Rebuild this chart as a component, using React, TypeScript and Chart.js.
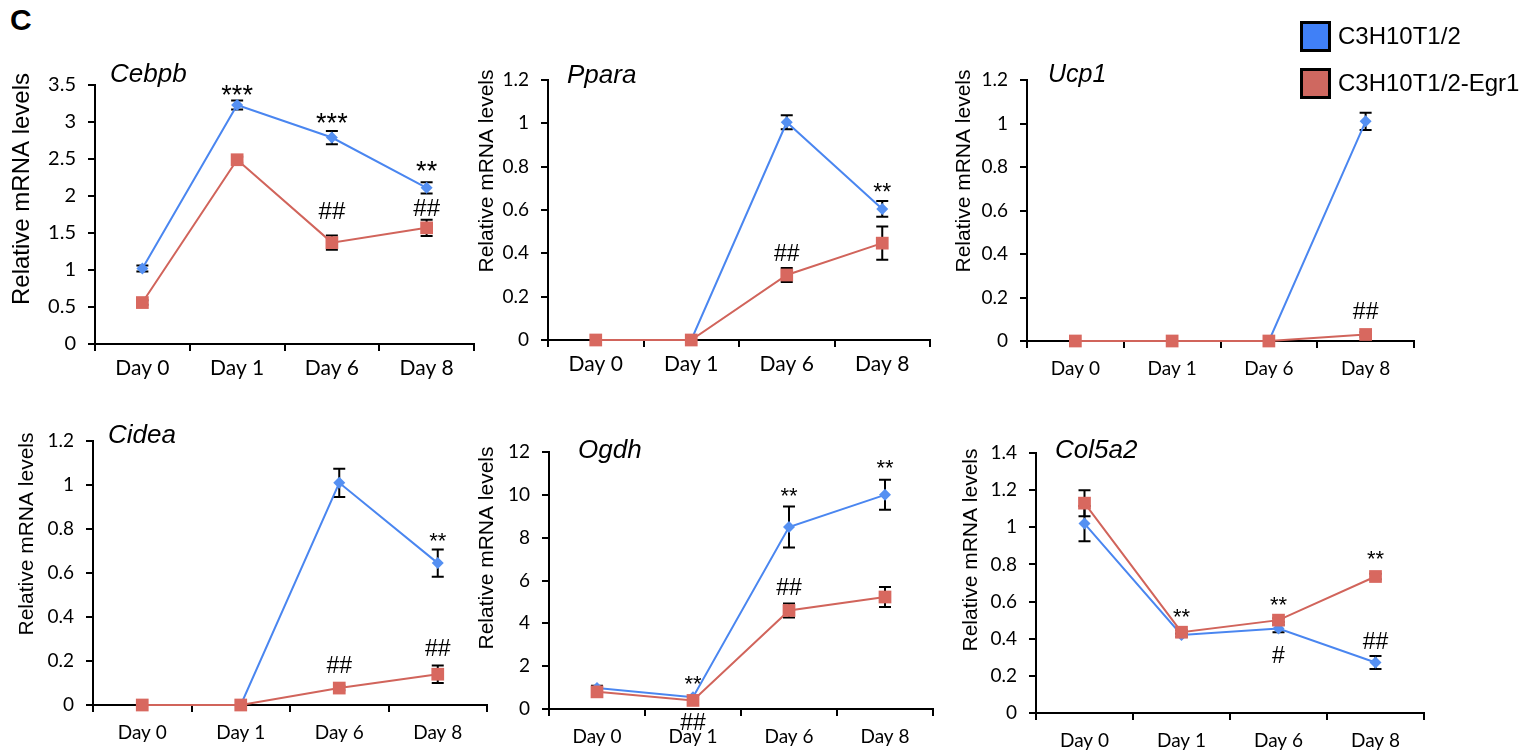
import React, { useEffect, useRef } from 'react';
import { Chart, registerables } from 'chart.js';

Chart.register(...registerables);

// ---------- data ----------
const days = ['Day 0', 'Day 1', 'Day 6', 'Day 8'];
const seriesNames = ['C3H10T1/2', 'C3H10T1/2-Egr1'];

const cebpbCtrl = [1.02, 3.23, 2.79, 2.11];
const cebpbCtrlSd = [0.04, 0.06, 0.09, 0.075];
const cebpbEgr1 = [0.56, 2.49, 1.37, 1.57];
const cebpbEgr1Sd = [0.03, 0.04, 0.095, 0.11];
const cebpbMarks = [
  { day: 1, text: '***', y: 3.45 },
  { day: 2, text: '***', y: 3.07 },
  { day: 3, text: '**', y: 2.43 },
  { day: 2, text: '##', y: 1.8 },
  { day: 3, text: '##', y: 1.84 },
];

const pparaCtrl = [0, 0, 1.005, 0.605];
const pparaCtrlSd = [0, 0, 0.032, 0.036];
const pparaEgr1 = [0, 0, 0.3, 0.447];
const pparaEgr1Sd = [0, 0, 0.032, 0.077];
const pparaMarks = [
  { day: 3, text: '**', y: 0.706 },
  { day: 2, text: '##', y: 0.4 },
];

const ucp1Ctrl = [0, 0, 0, 1.01];
const ucp1CtrlSd = [0, 0, 0, 0.04];
const ucp1Egr1 = [0, 0, 0, 0.03];
const ucp1Egr1Sd = [0, 0, 0, 0.01];
const ucp1Marks = [{ day: 3, text: '##', y: 0.137 }];

const cideaCtrl = [0, 0, 1.01, 0.645];
const cideaCtrlSd = [0, 0, 0.064, 0.062];
const cideaEgr1 = [0, 0, 0.077, 0.14];
const cideaEgr1Sd = [0, 0, 0.01, 0.04];
const cideaMarks = [
  { day: 3, text: '**', y: 0.77 },
  { day: 2, text: '##', y: 0.18 },
  { day: 3, text: '##', y: 0.26 },
];

const ogdhCtrl = [0.98, 0.55, 8.5, 10.0];
const ogdhCtrlSd = [0.1, 0.05, 0.96, 0.7];
const ogdhEgr1 = [0.8, 0.4, 4.6, 5.23];
const ogdhEgr1Sd = [0.1, 0.05, 0.33, 0.47];
const ogdhMarks = [
  { day: 1, text: '**', y: 1.45 },
  { day: 1, text: '##', y: -0.6 },
  { day: 2, text: '**', y: 10.2 },
  { day: 2, text: '##', y: 5.7 },
  { day: 3, text: '**', y: 11.5 },
];

const col5a2Ctrl = [1.02, 0.42, 0.455, 0.272];
const col5a2CtrlSd = [0.095, 0.01, 0.02, 0.035];
const col5a2Egr1 = [1.13, 0.435, 0.5, 0.735];
const col5a2Egr1Sd = [0.07, 0.01, 0.01, 0.015];
const col5a2Marks = [
  { day: 1, text: '**', y: 0.55 },
  { day: 2, text: '**', y: 0.61 },
  { day: 2, text: '#', y: 0.31 },
  { day: 3, text: '**', y: 0.86 },
  { day: 3, text: '##', y: 0.39 },
];

// ---------- styling / layout ----------
const BLUE_LINE = '#4a86f0';
const BLUE_FILL = '#5590f2';
const RED_LINE = '#d1645b';
const RED_FILL = '#d8685f';
const SANS = '"Liberation Sans", Arial, sans-serif';
const TICKFONT = 'Lato, "Liberation Sans", sans-serif';

const AXIS_W = 90;
const PAD_T = 40;
const PAD_R = 14;
const AXIS_H = 48;

const panels = [
  { gene: 'Cebpb', ctrl: cebpbCtrl, ctrlSd: cebpbCtrlSd, egr: cebpbEgr1, egrSd: cebpbEgr1Sd, max: 3.5, step: 0.5, marks: cebpbMarks,
    box: [95, 85, 474, 344], yTitleDx: 73, yTitleDy: 104, yTitleSize: 24, yTickSize: 20, xTickSize: 21, xTickPad: 5, geneDx: 15, geneDy: -3, geneSize: 26, starSize: 27, hashSize: 24 },
  { gene: 'Ppara', ctrl: pparaCtrl, ctrlSd: pparaCtrlSd, egr: pparaEgr1, egrSd: pparaEgr1Sd, max: 1.2, step: 0.2, marks: pparaMarks,
    box: [548, 80, 930, 340], yTitleDx: 61, yTitleDy: 91, yTitleSize: 21, yTickSize: 19, xTickSize: 21, xTickPad: 5, geneDx: 19, geneDy: 3, geneSize: 26, starSize: 23, hashSize: 23 },
  { gene: 'Ucp1', ctrl: ucp1Ctrl, ctrlSd: ucp1CtrlSd, egr: ucp1Egr1, egrSd: ucp1Egr1Sd, max: 1.2, step: 0.2, marks: ucp1Marks,
    box: [1027, 80, 1414, 341], yTitleDx: 63, yTitleDy: 91, yTitleSize: 21, yTickSize: 19, xTickSize: 19, xTickPad: 9, geneDx: 21, geneDy: 2, geneSize: 25, starSize: 22, hashSize: 23 },
  { gene: 'Cidea', ctrl: cideaCtrl, ctrlSd: cideaCtrlSd, egr: cideaEgr1, egrSd: cideaEgr1Sd, max: 1.2, step: 0.2, marks: cideaMarks,
    box: [93, 441, 487, 705], yTitleDx: 66, yTitleDy: 93, yTitleSize: 21, yTickSize: 19, xTickSize: 19, xTickPad: 9, geneDx: 15, geneDy: 2, geneSize: 26, starSize: 22, hashSize: 23 },
  { gene: 'Ogdh', ctrl: ogdhCtrl, ctrlSd: ogdhCtrlSd, egr: ogdhEgr1, egrSd: ogdhEgr1Sd, max: 12, step: 2, marks: ogdhMarks,
    box: [549, 452, 933, 709], yTitleDx: 62, yTitleDy: 96, yTitleSize: 21, yTickSize: 19, xTickSize: 19, xTickPad: 9, geneDx: 29, geneDy: 6, geneSize: 26, starSize: 22, hashSize: 23 },
  { gene: 'Col5a2', ctrl: col5a2Ctrl, ctrlSd: col5a2CtrlSd, egr: col5a2Egr1, egrSd: col5a2Egr1Sd, max: 1.4, step: 0.2, marks: col5a2Marks,
    box: [1036, 453, 1424, 713], yTitleDx: 65, yTitleDy: 97, yTitleSize: 21, yTickSize: 19, xTickSize: 19, xTickPad: 9, geneDx: 19, geneDy: 5, geneSize: 26, starSize: 22, hashSize: 23 },
];

const fmt = (v: number) => String(Math.round(v * 100) / 100);

function Panel({ cfg }: { cfg: any }) {
  const ref = useRef<HTMLCanvasElement>(null);
  const [L, T, R, B] = cfg.box;
  const left = L - AXIS_W;
  const top = T - PAD_T;
  const width = R - L + AXIS_W + PAD_R;
  const height = B - T + PAD_T + AXIS_H;

  useEffect(() => {
    if (!ref.current) return;

    const errorBars = {
      id: 'errorBars',
      beforeDatasetsDraw(chart: any) {
        const { ctx } = chart;
        const ys = chart.scales.y;
        ctx.save();
        ctx.strokeStyle = '#000';
        ctx.lineWidth = 2;
        chart.data.datasets.forEach((ds: any, i: number) => {
          const meta = chart.getDatasetMeta(i);
          ds.data.forEach((v: number, j: number) => {
            const e = ds.errors[j];
            if (!e) return;
            const x = meta.data[j].x;
            const y1 = ys.getPixelForValue(v + e);
            const y2 = ys.getPixelForValue(v - e);
            ctx.beginPath();
            ctx.moveTo(x, y1); ctx.lineTo(x, y2);
            ctx.moveTo(x - 6, y1); ctx.lineTo(x + 6, y1);
            ctx.moveTo(x - 6, y2); ctx.lineTo(x + 6, y2);
            ctx.stroke();
          });
        });
        ctx.restore();
      },
    };

    const texts = {
      id: 'panelTexts',
      afterDraw(chart: any) {
        const { ctx, chartArea } = chart;
        const xs = chart.scales.x;
        const ys = chart.scales.y;
        ctx.save();
        ctx.fillStyle = '#000';
        // gene title
        ctx.font = `italic ${cfg.geneSize}px ${SANS}`;
        ctx.textAlign = 'left';
        ctx.textBaseline = 'alphabetic';
        ctx.fillText(cfg.gene, chartArea.left + cfg.geneDx, chartArea.top + cfg.geneDy);
        // y-axis title
        ctx.save();
        ctx.translate(chartArea.left - cfg.yTitleDx, chartArea.top + cfg.yTitleDy);
        ctx.rotate(-Math.PI / 2);
        ctx.font = `${cfg.yTitleSize}px ${SANS}`;
        ctx.textAlign = 'center';
        ctx.textBaseline = 'middle';
        ctx.fillText('Relative mRNA levels', 0, 0);
        ctx.restore();
        // significance marks
        ctx.textAlign = 'center';
        ctx.textBaseline = 'alphabetic';
        cfg.marks.forEach((m: any) => {
          const star = m.text.includes('*');
          const size = star ? cfg.starSize : cfg.hashSize;
          ctx.font = `${size}px ${SANS}`;
          const x = xs.getPixelForValue(m.day);
          const y = ys.getPixelForValue(m.y) + (star ? 0.58 : 0.35) * size;
          ctx.fillText(m.text, x, y);
        });
        ctx.restore();
      },
    };

    const chart = new Chart(ref.current, {
      type: 'line',
      data: {
        labels: days,
        datasets: [
          {
            label: seriesNames[1],
            data: cfg.egr,
            errors: cfg.egrSd,
            borderColor: RED_LINE,
            backgroundColor: RED_FILL,
            borderWidth: 2,
            pointStyle: 'rect',
            pointRadius: 9,
            pointBorderWidth: 0,
            pointBackgroundColor: RED_FILL,
            tension: 0,
            clip: false,
          } as any,
          {
            label: seriesNames[0],
            data: cfg.ctrl,
            errors: cfg.ctrlSd,
            borderColor: BLUE_LINE,
            backgroundColor: BLUE_FILL,
            borderWidth: 2,
            pointStyle: 'rectRot',
            pointRadius: 6,
            pointBorderWidth: 0,
            pointBackgroundColor: BLUE_FILL,
            tension: 0,
            clip: false,
          } as any,
        ],
      },
      options: {
        animation: false,
        responsive: false,
        maintainAspectRatio: false,
        events: [],
        layout: { padding: { left: 0, top: PAD_T, right: PAD_R, bottom: 0 } },
        plugins: { legend: { display: false }, tooltip: { enabled: false }, title: { display: false } },
        scales: {
          x: {
            type: 'category',
            offset: true,
            grid: { offset: true, drawOnChartArea: false, drawTicks: true, tickLength: 7, color: '#000', lineWidth: 2 },
            border: { color: '#000', width: 2 },
            ticks: { color: '#000', font: { family: TICKFONT, size: cfg.xTickSize }, padding: cfg.xTickPad, maxRotation: 0, autoSkip: false },
            afterFit: (s: any) => { s.height = AXIS_H; },
          },
          y: {
            min: 0,
            max: cfg.max,
            grid: { drawOnChartArea: false, drawTicks: true, tickLength: 7, color: '#000', lineWidth: 2 },
            border: { color: '#000', width: 2 },
            ticks: { color: '#000', stepSize: cfg.step, font: { family: TICKFONT, size: cfg.yTickSize }, padding: 12, callback: (v: any) => fmt(Number(v)) },
            afterFit: (s: any) => { s.width = AXIS_W; },
          },
        },
      } as any,
      plugins: [errorBars, texts],
    });
    return () => chart.destroy();
  }, []);

  return (
    <canvas
      ref={ref}
      width={width}
      height={height}
      style={{ position: 'absolute', left, top, width, height }}
    />
  );
}

export default function App() {
  return (
    <div style={{ position: 'absolute', left: 0, top: 0, width: 1523, height: 753, background: '#fff', overflow: 'hidden' }}>
      <div style={{ position: 'absolute', left: 10, top: 5, fontFamily: SANS, fontWeight: 'bold', fontSize: 30, lineHeight: '30px', color: '#000' }}>C</div>
      {panels.map((p) => (
        <Panel key={p.gene} cfg={p} />
      ))}
      <div style={{ position: 'absolute', left: 1300, top: 21, width: 31, height: 31, boxSizing: 'border-box', border: '3px solid #000', background: '#4080f7' }} />
      <div style={{ position: 'absolute', left: 1338, top: 24, fontFamily: SANS, fontSize: 24, lineHeight: '24px', color: '#000', whiteSpace: 'nowrap' }}>{seriesNames[0]}</div>
      <div style={{ position: 'absolute', left: 1300, top: 68, width: 31, height: 31, boxSizing: 'border-box', border: '3px solid #000', background: '#cf6860' }} />
      <div style={{ position: 'absolute', left: 1338, top: 71, fontFamily: SANS, fontSize: 24, lineHeight: '24px', color: '#000', whiteSpace: 'nowrap' }}>{seriesNames[1]}</div>
    </div>
  );
}
